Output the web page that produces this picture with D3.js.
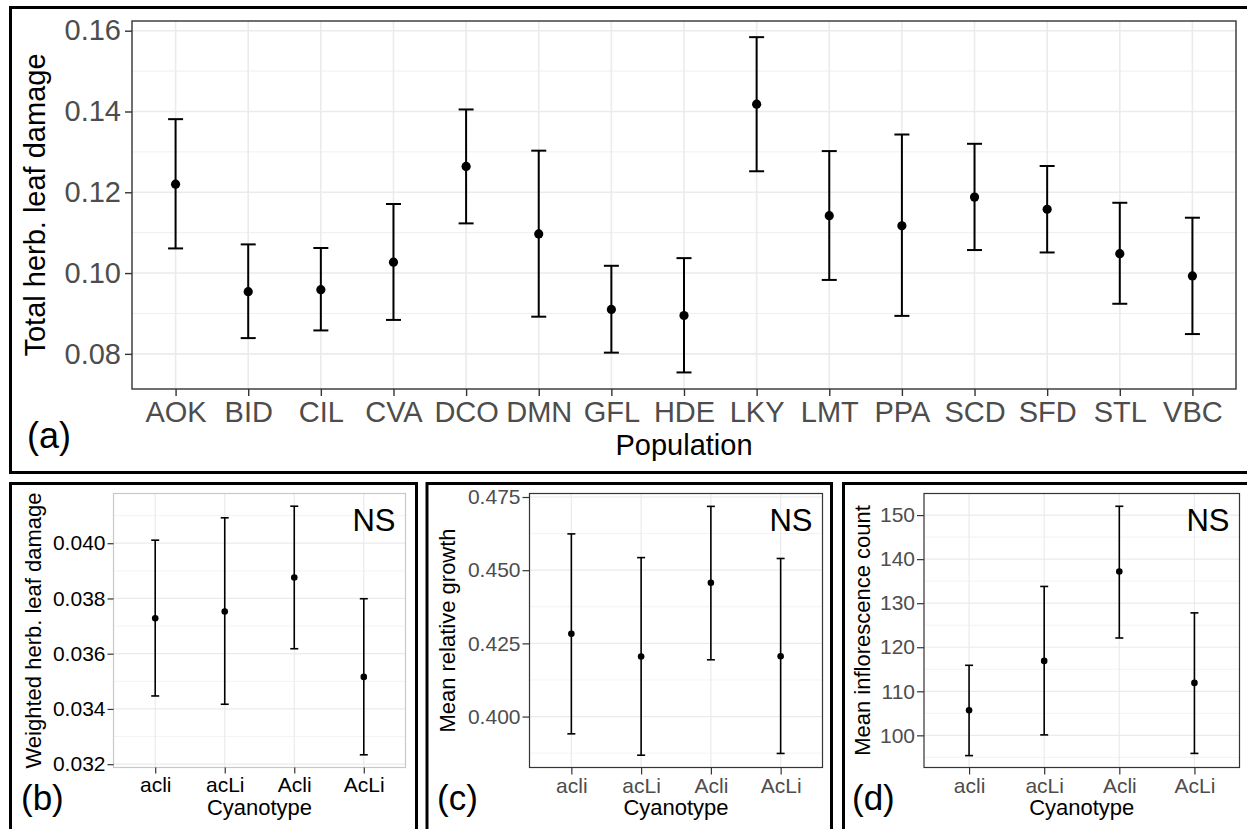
<!DOCTYPE html>
<html>
<head>
<meta charset="utf-8">
<script src="https://cdn.jsdelivr.net/npm/d3@7"></script>
<style>
  body { margin: 0; background: #fff; }
  svg { display: block; }
  text { font-family: "Liberation Sans", Arial, Helvetica, sans-serif; }
</style>
</head>
<body>
<svg id="fig" width="1247" height="829"></svg>
<script>
// panel (a): total herbivore leaf damage per population
const populations = ["AOK", "BID", "CIL", "CVA", "DCO", "DMN", "GFL", "HDE", "LKY", "LMT", "PPA", "SCD", "SFD", "STL", "VBC"];
const popMean  = [0.1220, 0.0954, 0.0959, 0.1027, 0.1264, 0.1097, 0.0910, 0.0895, 0.1418, 0.1142, 0.1117, 0.1188, 0.1158, 0.1048, 0.0993];
const popLower = [0.1061, 0.0839, 0.0858, 0.0884, 0.1123, 0.0892, 0.0803, 0.0754, 0.1252, 0.0983, 0.0894, 0.1057, 0.1051, 0.0924, 0.0849];
const popUpper = [0.1381, 0.1071, 0.1062, 0.1171, 0.1405, 0.1303, 0.1018, 0.1037, 0.1584, 0.1302, 0.1343, 0.1320, 0.1265, 0.1174, 0.1137];
const popTicks = [0.08, 0.10, 0.12, 0.14, 0.16];

// panels (b)-(d): per cyanotype
const cyanotypes = ["acli", "acLi", "Acli", "AcLi"];
const damageMean  = [0.03728, 0.03753, 0.03876, 0.03516];
const damageLower = [0.03447, 0.03417, 0.03618, 0.03234];
const damageUpper = [0.04011, 0.04092, 0.04134, 0.03799];
const damageTicks = [0.032, 0.034, 0.036, 0.038, 0.040];

const growthMean  = [0.4283, 0.4205, 0.4457, 0.4206];
const growthLower = [0.3941, 0.3868, 0.4194, 0.3874];
const growthUpper = [0.4624, 0.4543, 0.4718, 0.4540];
const growthTicks = [0.400, 0.425, 0.450, 0.475];

const flowerMean  = [105.7, 116.9, 137.2, 111.9];
const flowerLower = [95.4, 100.1, 122.1, 95.9];
const flowerUpper = [115.9, 133.8, 152.0, 127.8];
const flowerTicks = [100, 110, 120, 130, 140, 150];

const svg = d3.select("#fig");

// outer frames round each panel
const frames = [
  {x0: 10.5, y0: 7.5, x1: 1252, y1: 472.5},
  {x0: 10.5, y0: 483.5, x1: 416.5, y1: 840},
  {x0: 427, y0: 483.5, x1: 831.5, y1: 840},
  {x0: 843.5, y0: 483.5, x1: 1256, y1: 840}
];
svg.selectAll("rect.frame")
  .data(frames)
  .enter().append("rect")
  .attr("class", "frame")
  .attr("x", d => d.x0).attr("y", d => d.y0)
  .attr("width", d => d.x1 - d.x0).attr("height", d => d.y1 - d.y0)
  .attr("fill", "none").attr("stroke", "#000").attr("stroke-width", 3);

function drawPanel(o) {
  const g = svg.append("g");
  const x = d3.scalePoint().domain(o.cats).range([o.left, o.right]).padding(0.6);
  const y = d3.scaleLinear().domain(o.domain).range([o.bottom, o.top]);

  // minor grid at midpoints between major ticks
  const step = o.ticks[1] - o.ticks[0];
  const minor = [o.ticks[0] - step / 2].concat(o.ticks.map(t => t + step / 2))
    .filter(v => v > o.domain[0] && v < o.domain[1]);

  g.selectAll("line.minor").data(minor).enter().append("line")
    .attr("x1", o.left).attr("x2", o.right)
    .attr("y1", d => y(d)).attr("y2", d => y(d))
    .attr("stroke", o.grid).attr("stroke-width", o.minorW);
  g.selectAll("line.majorY").data(o.ticks).enter().append("line")
    .attr("x1", o.left).attr("x2", o.right)
    .attr("y1", d => y(d)).attr("y2", d => y(d))
    .attr("stroke", o.grid).attr("stroke-width", o.majorW);
  g.selectAll("line.majorX").data(o.cats).enter().append("line")
    .attr("x1", d => x(d)).attr("x2", d => x(d))
    .attr("y1", o.top).attr("y2", o.bottom)
    .attr("stroke", o.grid).attr("stroke-width", o.majorW);

  g.append("rect")
    .attr("x", o.left).attr("y", o.top)
    .attr("width", o.right - o.left).attr("height", o.bottom - o.top)
    .attr("fill", "none").attr("stroke", o.border).attr("stroke-width", o.borderW);

  // axes
  const ya = g.append("g").attr("transform", `translate(${o.left},0)`)
    .call(d3.axisLeft(y).tickValues(o.ticks).tickSize(o.tickLen).tickPadding(o.yPad).tickFormat(o.fmt));
  const xa = g.append("g").attr("transform", `translate(0,${o.bottom})`)
    .call(d3.axisBottom(x).tickSize(o.tickLen).tickPadding(o.xPad));
  [ya, xa].forEach(a => {
    a.select(".domain").remove();
    a.selectAll(".tick line").attr("stroke", o.tickColor).attr("stroke-width", o.tickW);
    a.selectAll(".tick text").attr("fill", o.labelColor)
      .style("font-size", o.tickFont + "px")
      .style("font-family", "'Liberation Sans', Arial, Helvetica, sans-serif");
  });

  // error bars and points
  const rows = o.cats.map((c, i) => ({c: c, m: o.mean[i], lo: o.lower[i], hi: o.upper[i]}));
  const eb = g.selectAll("g.eb").data(rows).enter().append("g");
  eb.append("line")
    .attr("x1", d => x(d.c)).attr("x2", d => x(d.c))
    .attr("y1", d => y(d.lo)).attr("y2", d => y(d.hi))
    .attr("stroke", "#000").attr("stroke-width", o.lw);
  ["lo", "hi"].forEach(k => {
    eb.append("line")
      .attr("x1", d => x(d.c) - o.cap / 2).attr("x2", d => x(d.c) + o.cap / 2)
      .attr("y1", d => y(d[k])).attr("y2", d => y(d[k]))
      .attr("stroke", "#000").attr("stroke-width", o.lw);
  });
  eb.append("circle")
    .attr("cx", d => x(d.c)).attr("cy", d => y(d.m)).attr("r", o.r)
    .attr("fill", "#000");

  // titles
  g.append("text")
    .attr("transform", `translate(${o.yTitleX},${(o.top + o.bottom) / 2}) rotate(-90)`)
    .attr("text-anchor", "middle").style("font-size", o.titleFont + "px")
    .attr("fill", "#000").text(o.yTitle);
  g.append("text")
    .attr("x", (o.left + o.right) / 2).attr("y", o.xTitleY)
    .attr("text-anchor", "middle").style("font-size", o.titleFont + "px")
    .attr("fill", "#000").text(o.xTitle);
  g.append("text")
    .attr("x", o.tagX).attr("y", o.tagY)
    .style("font-size", o.tagFont + "px").attr("fill", "#000").text(o.tag);
  if (o.ns) {
    g.append("text")
      .attr("x", o.right - 10).attr("y", o.top + 37)
      .attr("text-anchor", "end").style("font-size", "31px")
      .attr("fill", "#000").text("NS");
  }
}

drawPanel({
  cats: populations, mean: popMean, lower: popLower, upper: popUpper,
  ticks: popTicks, domain: [0.0713, 0.1624], fmt: d3.format(".2f"),
  left: 132, right: 1236, top: 21, bottom: 389,
  grid: "#EBEBEB", majorW: 1.6, minorW: 0.8, border: "#333", borderW: 1.4,
  tickLen: 7, tickW: 1.4, tickColor: "#333", yPad: 4, xPad: 5,
  labelColor: "#4D4D4D", tickFont: 29,
  lw: 2, cap: 15, r: 4.6,
  yTitle: "Total herb. leaf damage", yTitleX: 45, titleFont: 29,
  xTitle: "Population", xTitleY: 455,
  tag: "(a)", tagX: 27, tagY: 448, tagFont: 36, ns: false
});

const small = {
  cats: cyanotypes, top: 493.5, bottom: 767.5,
  grid: "#EBEBEB", majorW: 1.2, minorW: 0.6, borderW: 1.2,
  tickW: 1.2, tickFont: 21, lw: 1.6, cap: 8, r: 3.3,
  titleFont: 22, xTitle: "Cyanotype", xTitleY: 815, tagY: 810, tagFont: 35, ns: true,
  xPad: 4
};

drawPanel(Object.assign({}, small, {
  mean: damageMean, lower: damageLower, upper: damageUpper,
  ticks: damageTicks, domain: [0.03188, 0.0418], fmt: d3.format(".3f"),
  left: 113.5, right: 405.5, border: "#C8C8C8", tickColor: "#333", labelColor: "#000",
  tickLen: 6, yPad: 2,
  yTitle: "Weighted herb. leaf damage", yTitleX: 41, tag: "(b)", tagX: 21
}));

drawPanel(Object.assign({}, small, {
  mean: growthMean, lower: growthLower, upper: growthUpper,
  ticks: growthTicks, domain: [0.3826, 0.4762], fmt: d3.format(".3f"),
  left: 529.5, right: 822.5, border: "#333", tickColor: "#333", labelColor: "#4D4D4D",
  tickLen: 7, yPad: 2,
  yTitle: "Mean relative growth", yTitleX: 455, tag: "(c)", tagX: 437
}));

drawPanel(Object.assign({}, small, {
  mean: flowerMean, lower: flowerLower, upper: flowerUpper,
  ticks: flowerTicks, domain: [92.7, 154.9], fmt: d3.format("d"),
  left: 924, right: 1239.5, border: "#333", tickColor: "#333", labelColor: "#4D4D4D",
  tickLen: 7, yPad: 2,
  yTitle: "Mean inflorescence count", yTitleX: 870, tag: "(d)", tagX: 852
}));
</script>
</body>
</html>
